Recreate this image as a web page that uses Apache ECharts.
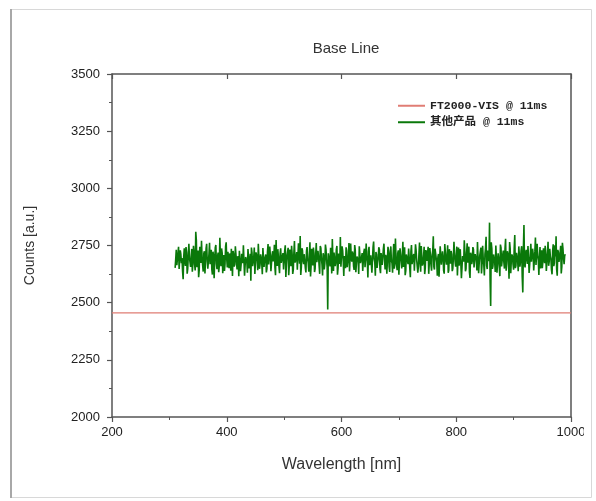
<!DOCTYPE html>
<html>
<head>
<meta charset="utf-8">
<script src="https://cdn.jsdelivr.net/npm/echarts@6/dist/echarts.min.js"></script>
<style>
html,body{margin:0;padding:0;background:#fff;}
#c{width:596px;height:501px;}
</style>
</head>
<body>
<div id="c"></div>
<script>
// ---- data ----
const titleText = 'Base Line';
const xName = 'Wavelength [nm]';
const yName = 'Counts [a.u.]';
const seriesNames = ['FT2000-VIS @ 11ms', '其他产品 @ 11ms'];
const xTicks = [200, 400, 600, 800, 1000];
const yTicks = [2000, 2250, 2500, 2750, 3000, 3250, 3500];

// FT2000-VIS baseline (flat)
const redWl = [200, 400, 600, 800, 1000];
const redCounts = [2455, 2455, 2456, 2455, 2455];

// other product: readings at even wavelengths 310, 312, ... 990 nm
const greenEvenStart = 310;
const greenCountsEven = [
2652,2731,2668,2744,2640,2712,2695,2603,2738,2661,2720,2648,2757,2676,2701,2635,2749,2667,2810,2655,
2728,2642,2706,2771,2663,2715,2628,2737,2680,2652,2762,2694,2645,2723,2607,2741,2669,2702,2633,2784,
2659,2718,2676,2639,2746,2690,2722,2651,2701,2736,2617,2710,2667,2752,2645,2689,2727,2638,2714,2673,
2745,2662,2703,2631,2729,2684,2596,2719,2657,2741,2676,2708,2642,2766,2665,2697,2624,2733,2688,2711,
2648,2756,2671,2706,2636,2725,2690,2653,2774,2661,2702,2629,2738,2679,2717,2644,2751,2668,2699,2620,
2732,2660,2712,2643,2770,2684,2721,2637,2706,2792,2655,2728,2669,2704,2632,2743,2674,2711,2615,2736,
2663,2718,2648,2761,2681,2700,2626,2739,2667,2716,2645,2754,2687,2470,2722,2658,2705,2778,2639,2712,
2676,2748,2651,2694,2787,2663,2729,2617,2708,2742,2655,2697,2636,2759,2680,2714,2643,2731,2672,2706,
2625,2750,2666,2717,2647,2736,2688,2703,2610,2744,2670,2709,2639,2767,2677,2722,2652,2695,2733,2629,
2712,2661,2758,2645,2700,2684,2727,2634,2746,2673,2706,2649,2781,2664,2715,2622,2738,2681,2701,2656,
2742,2639,2719,2668,2697,2611,2752,2676,2713,2646,2730,2688,2659,2763,2635,2705,2672,2744,2651,2720,
2683,2626,2739,2664,2708,2790,2645,2718,2677,2699,2613,2747,2666,2725,2640,2756,2686,2703,2631,2734,
2670,2712,2648,2766,2679,2701,2619,2741,2662,2727,2653,2694,2773,2637,2716,2675,2745,2608,2709,2685,
2733,2657,2719,2641,2761,2673,2704,2628,2749,2666,2712,2788,2647,2725,2850,2485,2738,2660,2707,2634,
2752,2678,2695,2616,2741,2663,2728,2649,2779,2670,2714,2605,2737,2687,2702,2644,2796,2661,2723,2638,
2710,2681,2747,2545,2840,2654,2731,2669,2700,2626,2758,2676,2715,2647,2785,2663,2706,2621,2743,2690,
2651,2738,2673,2712,2632,2766,2679,2704,2643,2727,2660,2751,2790,2618,2721,2685,2749,2657,2736,2668,
2712
];
// readings at odd wavelengths 311, 313, ... 989 nm
const greenOddStart = 311;
const greenCountsOdd = [
2689,2664,2716,2647,2729,2673,2638,2702,2681,2743,2627,2710,2696,2656,2735,2669,2723,2641,2774,2685,
2611,2744,2674,2699,2636,2725,2688,2757,2649,2713,2668,2731,2623,2706,2684,2752,2646,2719,2661,2698,
2737,2629,2708,2671,2764,2654,2692,2715,2640,2682,2726,2658,2747,2677,2703,2616,2734,2666,2690,2751,
2618,2700,2679,2735,2650,2714,2741,2660,2697,2625,2720,2685,2758,2648,2711,2672,2739,2656,2693,2632,
2724,2667,2745,2638,2709,2681,2753,2620,2696,2734,2658,2716,2674,2702,2645,2728,2612,2706,2740,2663,
2686,2749,2626,2719,2675,2701,2644,2760,2670,2621,2738,2683,2712,2651,2726,2690,2635,2764,2659,2697,
2741,2634,2708,2677,2727,2662,2748,2693,2619,2703,2672,2733,2654,2716,2681,2740,2628,2693,2719,2660,
2733,2622,2715,2669,2657,2746,2684,2704,2651,2728,2679,2761,2641,2695,2724,2660,2752,2633,2702,2687,
2747,2673,2698,2639,2722,2655,2759,2680,2726,2664,2707,2631,2743,2690,2618,2711,2676,2742,2648,2717,
2665,2735,2688,2709,2627,2744,2656,2718,2683,2631,2757,2671,2700,2642,2729,2678,2713,2650,2766,2694,
2620,2711,2684,2737,2652,2725,2669,2703,2640,2755,2687,2631,2714,2673,2748,2662,2697,2625,2730,2683,
2744,2671,2706,2640,2728,2657,2736,2695,2618,2713,2681,2739,2659,2700,2627,2722,2666,2751,2643,2706,
2726,2638,2695,2717,2657,2745,2683,2662,2734,2607,2704,2679,2723,2648,2760,2690,2633,2718,2668,2743,
2654,2712,2686,2765,2629,2707,2741,2671,2694,2619,2738,2662,2728,2681,2599,2764,2648,2711,2677,2750,
2631,2716,2688,2754,2658,2709,2676,2737,2640,2725,2692,2765,2629,2711,2667,2739,2651,2718,2684,2746,
2657,2728,2612,2735,2666,2718,2689,2748,2630,2704,2679,2736,2641,2722,2665,2757,2686,2701,2650,2729,
2682,2709,2749,2639,2719,2661,2736,2690,2624,2755,2673,2702,2645,2731,2678,2715,2628,2762,2694,2705
];
const greenStep = 2;

// ---- build ----
const redData = redWl.map((w, i) => [w, redCounts[i]]);
const greenData = [];
greenCountsEven.forEach((v, i) => {
  greenData.push([greenEvenStart + i * greenStep, v]);
  if (i < greenCountsOdd.length) greenData.push([greenOddStart + i * greenStep, greenCountsOdd[i]]);
});

const axisColor = '#555';
const font = '"Liberation Sans", Arial, sans-serif';
const plain = v => String(v);

const chart = echarts.init(document.getElementById('c'), null, {renderer: 'canvas'});
chart.setOption({
  animation: false,
  backgroundColor: '#fff',
  title: {
    text: titleText,
    left: 341, top: 36, textAlign: 'center',
    textStyle: {fontFamily: font, fontSize: 15, fontWeight: 'normal', color: '#333'}
  },
  legend: {
    orient: 'vertical',
    left: 393, top: 95,
    itemWidth: 27, itemHeight: 2, itemGap: 5,
    icon: 'rect',
    data: seriesNames,
    textStyle: {fontFamily: '"Liberation Mono", "DejaVu Sans Mono", "Noto Sans CJK SC", monospace', fontSize: 11.5, fontWeight: 'bold', color: '#222'}
  },
  grid: {left: 112, right: 25, top: 74, bottom: 84},
  xAxis: [{
    type: 'value', min: xTicks[0], max: xTicks[xTicks.length - 1], interval: 200,
    position: 'bottom',
    name: xName, nameLocation: 'middle', nameGap: 40,
    nameTextStyle: {fontFamily: font, fontSize: 16, color: '#333'},
    axisLine: {show: true, lineStyle: {color: axisColor, width: 1.5}},
    axisTick: {show: true, inside: false, length: 5, lineStyle: {color: axisColor, width: 1.2}},
    minorTick: {show: true, splitNumber: 2, length: 3, lineStyle: {color: axisColor}},
    axisLabel: {fontFamily: font, fontSize: 13, color: '#222', margin: 9, formatter: plain},
    splitLine: {show: false}
  }, {
    type: 'value', min: xTicks[0], max: xTicks[xTicks.length - 1], interval: 200,
    position: 'top',
    axisLine: {show: true, lineStyle: {color: axisColor, width: 1.5}},
    axisTick: {show: true, inside: true, length: 5, lineStyle: {color: axisColor, width: 1.2}},
    axisLabel: {show: false},
    splitLine: {show: false}
  }],
  yAxis: [{
    type: 'value', min: yTicks[0], max: yTicks[yTicks.length - 1], interval: 250,
    position: 'left',
    name: yName, nameLocation: 'middle', nameGap: 75,
    nameTextStyle: {fontFamily: font, fontSize: 14, color: '#333'},
    axisLine: {show: true, lineStyle: {color: axisColor, width: 1.5}},
    axisTick: {show: true, inside: false, length: 5, lineStyle: {color: axisColor, width: 1.2}},
    minorTick: {show: true, splitNumber: 2, length: 3, lineStyle: {color: axisColor}},
    axisLabel: {fontFamily: font, fontSize: 13, color: '#222', margin: 12, formatter: plain},
    splitLine: {show: false}
  }, {
    type: 'value', min: yTicks[0], max: yTicks[yTicks.length - 1], interval: 250,
    position: 'right',
    axisLine: {show: true, lineStyle: {color: axisColor, width: 1.5}},
    axisTick: {show: false},
    axisLabel: {show: false},
    splitLine: {show: false}
  }],
  series: [{
    name: seriesNames[0], type: 'line', data: redData,
    showSymbol: false, symbol: 'none',
    color: '#e07d74',
    lineStyle: {width: 1.2, color: '#e07d74'},
    z: 3
  }, {
    name: seriesNames[1], type: 'line', data: greenData,
    showSymbol: false, symbol: 'none', sampling: false,
    color: '#0a780a',
    lineStyle: {width: 1.6, color: '#0a780a'},
    z: 2
  }],
  graphic: [
    {type: 'rect', shape: {x: 584, y: 420, width: 8, height: 24}, style: {fill: '#fff'}, z: 100},
    {type: 'rect', shape: {x: 10.5, y: 9.5, width: 581, height: 488}, style: {fill: 'none', stroke: '#d8d8d8', lineWidth: 1}, z: 100},
    {type: 'line', shape: {x1: 11, y1: 9, x2: 11, y2: 498}, style: {stroke: '#a8a8a8', lineWidth: 2}, z: 101}
  ]
});
</script>
</body>
</html>
